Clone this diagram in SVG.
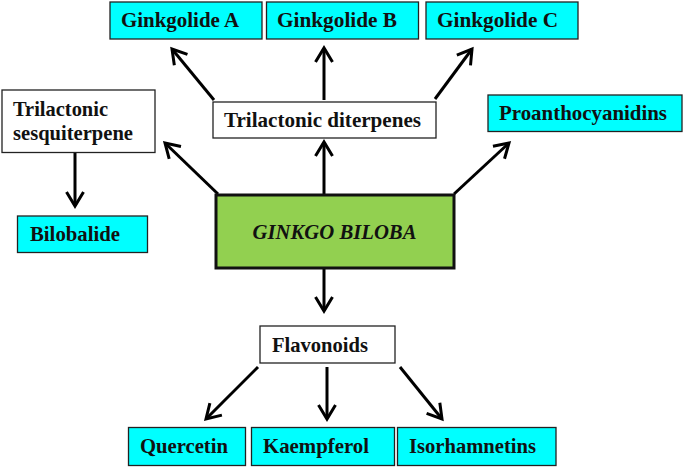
<svg xmlns="http://www.w3.org/2000/svg" width="685" height="467" viewBox="0 0 685 467">
<defs>
<style>
.cy{fill:#00ffff;stroke:#222;stroke-width:1.3}
.wh{fill:#fff;stroke:#222;stroke-width:1.3}
.main{fill:#92d050;stroke:#111;stroke-width:3}
text{font-family:"Liberation Serif","Times New Roman",serif;font-weight:bold;font-size:21px;fill:#111}
.it{font-style:italic;font-size:22px}
#conn line{stroke:#000;stroke-width:3;marker-end:url(#ah)}
</style>
<marker id="ah" markerUnits="userSpaceOnUse" markerWidth="20" markerHeight="22" viewBox="0 0 20 22" refX="16" refY="11" orient="auto">
<path d="M2,2.5 L16,11 L2,19.5" fill="none" stroke="#000" stroke-width="3" stroke-linejoin="miter"/>
</marker>
</defs>
<rect width="685" height="467" fill="#fff"/>
<g id="conn">
<line x1="214" y1="100" x2="172" y2="49"/>
<line x1="324" y1="100" x2="324" y2="48"/>
<line x1="435" y1="99" x2="472" y2="49"/>
<line x1="218" y1="194" x2="165" y2="143"/>
<line x1="324" y1="194" x2="324" y2="142"/>
<line x1="454" y1="194" x2="509" y2="143"/>
<line x1="75" y1="153" x2="75" y2="206"/>
<line x1="324" y1="269" x2="324" y2="311"/>
<line x1="258" y1="367" x2="206" y2="419"/>
<line x1="327" y1="367" x2="327" y2="419"/>
<line x1="400" y1="367" x2="442" y2="419"/>
</g>
<g id="ginkgolideA"><rect class="cy" x="110" y="2" width="152" height="37"/><text x="121" y="27" textLength="118" lengthAdjust="spacingAndGlyphs">Ginkgolide A</text></g>
<g id="ginkgolideB"><rect class="cy" x="266.5" y="2" width="152" height="37"/><text x="277" y="27" textLength="120" lengthAdjust="spacingAndGlyphs">Ginkgolide B</text></g>
<g id="ginkgolideC"><rect class="cy" x="426" y="2" width="152" height="37"/><text x="437" y="27" textLength="121" lengthAdjust="spacingAndGlyphs">Ginkgolide C</text></g>
<g id="diterpenes"><rect class="wh" x="213" y="102" width="223" height="36"/><text x="224" y="127" textLength="197" lengthAdjust="spacingAndGlyphs">Trilactonic  diterpenes</text></g>
<g id="sesquiterpene"><rect class="wh" x="2" y="90" width="153" height="62.5"/><text x="13" y="116" textLength="95" lengthAdjust="spacingAndGlyphs">Trilactonic</text><text x="13" y="140" textLength="120" lengthAdjust="spacingAndGlyphs">sesquiterpene</text></g>
<g id="proanthocyanidins"><rect class="cy" x="488" y="95" width="194" height="36.5"/><text x="499" y="120" textLength="168" lengthAdjust="spacingAndGlyphs">Proanthocyanidins</text></g>
<g id="bilobalide"><rect class="cy" x="17.5" y="216" width="130" height="36.5"/><text x="30" y="241" textLength="90" lengthAdjust="spacingAndGlyphs">Bilobalide</text></g>
<g id="ginkgo"><rect class="main" x="216" y="195" width="238" height="73"/><text class="it" x="252.5" y="239" textLength="164" lengthAdjust="spacingAndGlyphs">GINKGO BILOBA</text></g>
<g id="flavonoids"><rect class="wh" x="260" y="326" width="135" height="37"/><text x="272" y="352" textLength="96" lengthAdjust="spacingAndGlyphs">Flavonoids</text></g>
<g id="quercetin"><rect class="cy" x="128.5" y="427.5" width="117" height="38"/><text x="140" y="453" textLength="88" lengthAdjust="spacingAndGlyphs">Quercetin</text></g>
<g id="kaempferol"><rect class="cy" x="251.5" y="427.5" width="143" height="38"/><text x="263" y="453" textLength="106" lengthAdjust="spacingAndGlyphs">Kaempferol</text></g>
<g id="isorhamnetins"><rect class="cy" x="397.5" y="427.5" width="158.5" height="38"/><text x="409" y="453" textLength="127" lengthAdjust="spacingAndGlyphs">Isorhamnetins</text></g>
</svg>
